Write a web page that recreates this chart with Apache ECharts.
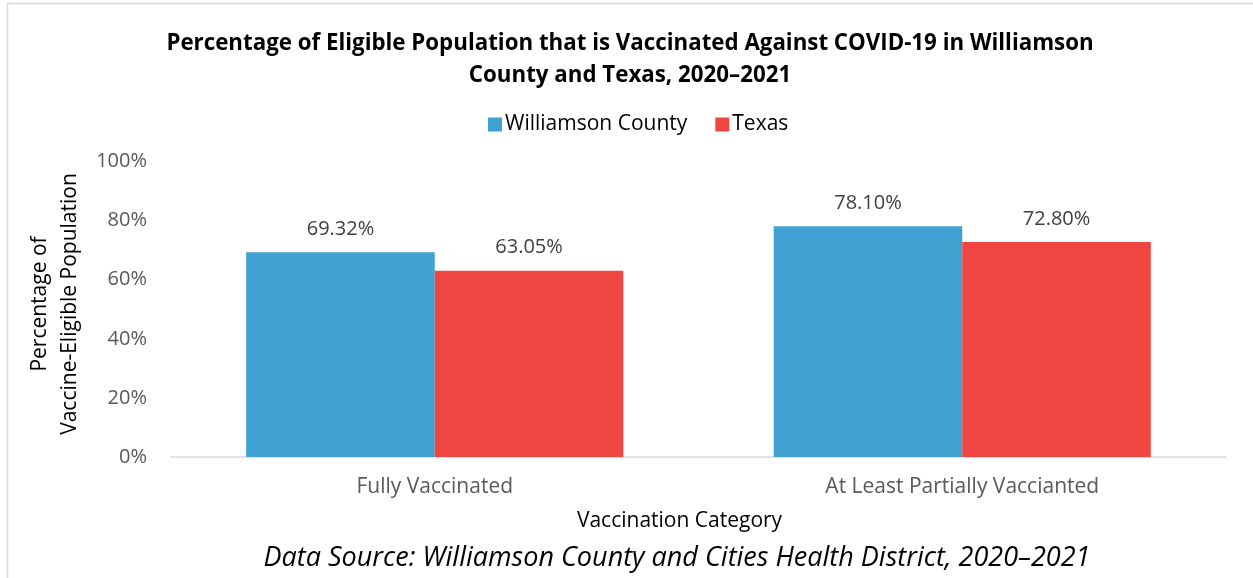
<!DOCTYPE html>
<html>
<head>
<meta charset="utf-8">
<style>
  html, body { margin: 0; padding: 0; background: #ffffff; }
  #chart { width: 1253px; height: 578px; }
</style>
<script src="https://cdn.jsdelivr.net/npm/echarts@6/dist/echarts.min.js"></script>
</head>
<body>
<div id="chart"></div>
<script>
// Vaccination coverage among the vaccine-eligible population
const categories = ['Fully Vaccinated', 'At Least Partially Vaccianted'];
const williamsonCounty = [69.32, 78.10];
const texas = [63.05, 72.80];
const yTicks = [0, 20, 40, 60, 80, 100];

const FONT = '"Open Sans", "Noto Sans", sans-serif';

const chart = echarts.init(document.getElementById('chart'), null, { renderer: 'canvas' });

const valueLabel = {
  show: true, position: 'top', distance: 13,
  fontFamily: FONT, fontSize: 20, color: '#404040',
  formatter: p => p.value.toFixed(2) + '%'
};

chart.setOption({
  backgroundColor: '#ffffff',
  animation: false,
  title: {
    text: 'Percentage of Eligible Population that is Vaccinated Against COVID-19 in Williamson\nCounty and Texas, 2020\u20132021',
    left: 625,
    top: 23,
    textAlign: 'center',
    textStyle: {
      fontFamily: FONT,
      fontWeight: 'bold',
      fontSize: 22.3,
      lineHeight: 32,
      color: '#000000'
    }
  },
  legend: {
    top: 109,
    left: 483,
    itemWidth: 14,
    itemHeight: 14,
    itemGap: 28,
    icon: 'rect',
    textStyle: { fontFamily: FONT, fontSize: 21, color: '#000000', padding: [0, 0, 0, -2] },
    data: ['Williamson County', 'Texas']
  },
  grid: { left: 171, right: 27, top: 161.5, bottom: 121, containLabel: false },
  xAxis: {
    type: 'category',
    data: categories,
    axisLine: { lineStyle: { color: '#d9d9d9', width: 1.5 } },
    axisTick: { show: false },
    axisLabel: { fontFamily: FONT, fontSize: 21, color: '#595959', margin: 20 },
    name: 'Vaccination Category',
    nameLocation: 'middle',
    nameGap: 54,
    nameTextStyle: { fontFamily: FONT, fontSize: 21, color: '#000000', padding: [0, 38, 0, 0] }
  },
  yAxis: {
    type: 'value',
    min: 0,
    max: 100,
    interval: 20,
    axisLine: { show: false },
    axisTick: { show: false },
    splitLine: { show: false },
    axisLabel: {
      fontFamily: FONT, fontSize: 20, color: '#595959', margin: 24,
      formatter: v => yTicks.includes(v) ? v + '%' : ''
    }
  },
  series: [
    {
      name: 'Williamson County',
      type: 'bar',
      data: williamsonCounty,
      barGap: '0%',
      barCategoryGap: '28.5%',
      itemStyle: { color: '#3fa2d3' },
      label: valueLabel
    },
    {
      name: 'Texas',
      type: 'bar',
      data: texas,
      itemStyle: { color: '#f04641' },
      label: valueLabel
    }
  ],
  graphic: [
    {
      type: 'rect',
      shape: { x: 7.5, y: 3.5, width: 1260, height: 600 },
      style: { fill: 'none', stroke: '#d9d9d9', lineWidth: 1.5 },
      silent: true
    },
    {
      type: 'text',
      x: 55,
      y: 304,
      rotation: Math.PI / 2,
      style: {
        text: 'Percentage of\nVaccine-Eligible Population',
        fontFamily: FONT,
        fontSize: 21,
        lineHeight: 30,
        fill: '#000000',
        align: 'center',
        verticalAlign: 'middle'
      }
    },
    {
      type: 'text',
      x: 677,
      y: 558,
      style: {
        text: 'Data Source: Williamson County and Cities Health District, 2020\u20132021',
        fontFamily: FONT,
        fontStyle: 'italic',
        fontSize: 27,
        fill: '#000000',
        align: 'center',
        verticalAlign: 'middle'
      }
    }
  ]
});
</script>
</body>
</html>
